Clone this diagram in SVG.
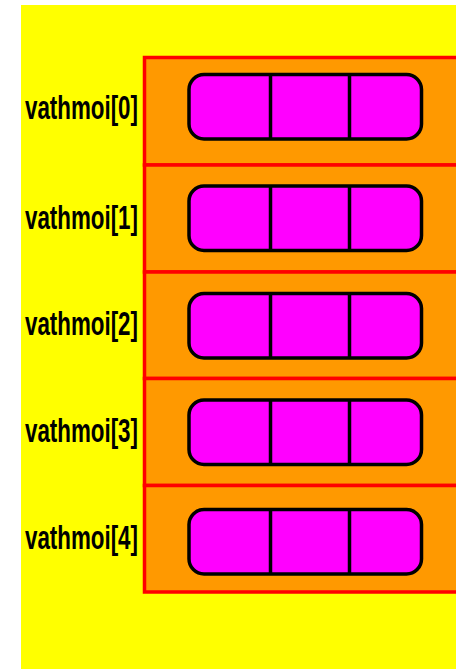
<svg xmlns="http://www.w3.org/2000/svg" width="456" height="669" viewBox="0 0 456 669">
<style>
.lbl{font-family:"Liberation Sans",Arial,sans-serif;font-weight:bold;font-size:34px;fill:#000}
.cell{fill:#ff9900;stroke:#ff0000;stroke-width:3.5}
.pill{fill:#ff00ff;stroke:#000;stroke-width:3.5}
.div{stroke:#000;stroke-width:3.5}
</style>
<rect x="0" y="0" width="456" height="669" fill="#ffffff"/>
<rect x="21" y="5" width="435" height="664" fill="#ffff00"/>
<g id="row0">
<rect class="cell" x="144.5" y="57.5" width="320" height="107.5"/>
<rect class="pill" x="189" y="74.5" width="232.5" height="64.5" rx="15"/>
<line class="div" x1="270.5" y1="74.5" x2="270.5" y2="139"/>
<line class="div" x1="349.5" y1="74.5" x2="349.5" y2="139"/>
<text class="lbl" x="25" y="119" textLength="113" lengthAdjust="spacingAndGlyphs">vathmoi[0]</text>
</g>
<g id="row1">
<rect class="cell" x="144.5" y="165" width="320" height="107"/>
<rect class="pill" x="189" y="186" width="232.5" height="64.5" rx="15"/>
<line class="div" x1="270.5" y1="186" x2="270.5" y2="250.5"/>
<line class="div" x1="349.5" y1="186" x2="349.5" y2="250.5"/>
<text class="lbl" x="25" y="229" textLength="113" lengthAdjust="spacingAndGlyphs">vathmoi[1]</text>
</g>
<g id="row2">
<rect class="cell" x="144.5" y="272" width="320" height="106.5"/>
<rect class="pill" x="189" y="293.5" width="232.5" height="64.5" rx="15"/>
<line class="div" x1="270.5" y1="293.5" x2="270.5" y2="358"/>
<line class="div" x1="349.5" y1="293.5" x2="349.5" y2="358"/>
<text class="lbl" x="25" y="334.5" textLength="113" lengthAdjust="spacingAndGlyphs">vathmoi[2]</text>
</g>
<g id="row3">
<rect class="cell" x="144.5" y="378.5" width="320" height="107"/>
<rect class="pill" x="189" y="400" width="232.5" height="64.5" rx="15"/>
<line class="div" x1="270.5" y1="400" x2="270.5" y2="464.5"/>
<line class="div" x1="349.5" y1="400" x2="349.5" y2="464.5"/>
<text class="lbl" x="25" y="441.5" textLength="113" lengthAdjust="spacingAndGlyphs">vathmoi[3]</text>
</g>
<g id="row4">
<rect class="cell" x="144.5" y="485.5" width="320" height="106.5"/>
<rect class="pill" x="189" y="509.5" width="232.5" height="64.5" rx="15"/>
<line class="div" x1="270.5" y1="509.5" x2="270.5" y2="574"/>
<line class="div" x1="349.5" y1="509.5" x2="349.5" y2="574"/>
<text class="lbl" x="25" y="549" textLength="113" lengthAdjust="spacingAndGlyphs">vathmoi[4]</text>
</g>
<g id="connectors"/>
</svg>
